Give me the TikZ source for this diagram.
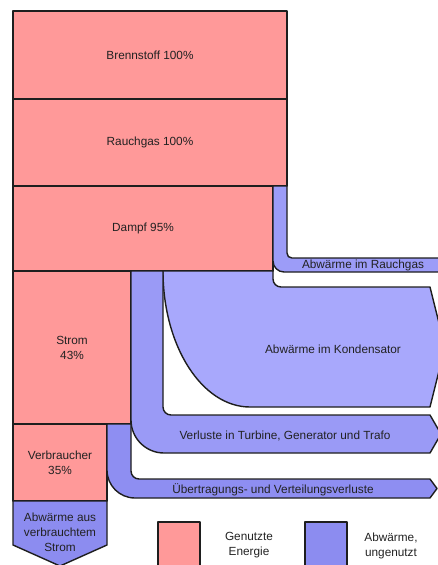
\documentclass[tikz,border=0pt]{standalone}
\usepackage{fontspec}
\setmainfont{Liberation Sans}
\definecolor{used}{HTML}{FF9999}
\definecolor{edge}{HTML}{1E1E1E}
\definecolor{txt}{HTML}{222222}
\definecolor{wRauch}{HTML}{9C9CF8}
\definecolor{wKond}{HTML}{A8A8FC}
\definecolor{wVerl}{HTML}{9A9AF6}
\definecolor{wUeber}{HTML}{8E8EF2}
\definecolor{wVerbr}{HTML}{8C8CF0}
\definecolor{wLeg}{HTML}{8C8CF0}
\begin{document}
\begin{tikzpicture}[x=1pt,y=-1pt,line width=1.4pt,line join=round,
  box/.style={draw=edge,fill=used},
  band/.style={draw=edge},
  lbl/.style={font=\fontsize{11.8}{15}\selectfont,text=txt,align=center}]
\path[use as bounding box] (0,0) rectangle (438,565);
\clip (0,0) rectangle (438,565);

% used energy boxes
\draw[box] (13,11) rectangle (287,99);
\draw[box] (13,99) rectangle (287,186);
\draw[box] (13,186) rectangle (273,271);
\draw[box] (13,271) rectangle (131,424);
\draw[box] (13,424) rectangle (107,501);

% waste heat from consumed electricity (pentagon arrow)
\draw[band,fill=wVerbr] (13,501) -- (107,501) -- (107,545) -- (60,566) -- (13,545) -- cycle;

% Abwaerme im Rauchgas
\draw[band,fill=wRauch] (273,186) -- (273,261)
  .. controls (273,267) and (278,272) .. (284,272) -- (446,272) -- (446,258)
  -- (292,258) .. controls (289,258) and (287,256) .. (287,253) -- (287,186) -- cycle;

% Abwaerme im Kondensator
\draw[band,fill=wKond] (163,271) -- (273,271) -- (273,279)
  .. controls (273,283.4) and (276.6,287) .. (281,287) -- (430,287)
  -- (445,347) -- (430,407) -- (250,407)
  .. controls (202,407) and (163,346) .. (163,271) -- cycle;

% Verluste in Turbine, Generator und Trafo
\draw[band,fill=wVerl] (131,271) -- (163,271) -- (163,407)
  .. controls (163,411.4) and (166.6,415) .. (171,415) -- (430,415)
  -- (441,434) -- (430,453) -- (164,453)
  .. controls (145.8,453) and (131,438.2) .. (131,420) -- cycle;

% Uebertragungs- und Verteilungsverluste
\draw[band,fill=wUeber] (107,424) -- (131,424) -- (131,471)
  .. controls (131,475.4) and (134.6,479) .. (139,479) -- (430,479)
  -- (437,488.5) -- (430,498) -- (135,498)
  .. controls (119.5,498) and (107,485.5) .. (107,470) -- cycle;

% legend
\draw[box] (158,522) rectangle (200,572);
\draw[band,fill=wLeg] (305,522) rectangle (347,572);

% labels
\node[lbl] (brenn) at (150,55) {Brennstoff 100\%};
\node[lbl] (rauch) at (150,142) {Rauchgas 100\%};
\node[lbl] (dampf) at (143,228) {Dampf 95\%};
\node[lbl] (strom) at (72,348) {Strom\\43\%};
\node[lbl] (verbr) at (60,463) {Verbraucher\\35\%};
\node[lbl] (abverbr) at (60,532.5) {Abwärme aus\\verbrauchtem\\Strom};
\node[lbl,anchor=base] (abrauch) at (363,268.5) {Abwärme im Rauchgas};
\node[lbl] (abkond) at (333,349) {Abwärme im Kondensator};
\node[lbl] (verl) at (285,436) {Verluste in Turbine, Generator und Trafo};
\node[lbl] (ueber) at (273,489.5) {Übertragungs- und Verteilungsverluste};
\node[lbl] (leg1) at (249,545.5) {Genutzte\\Energie};
\node[lbl] (leg2) at (391,545.5) {Abwärme,\\ungenutzt};
\end{tikzpicture}
\end{document}
